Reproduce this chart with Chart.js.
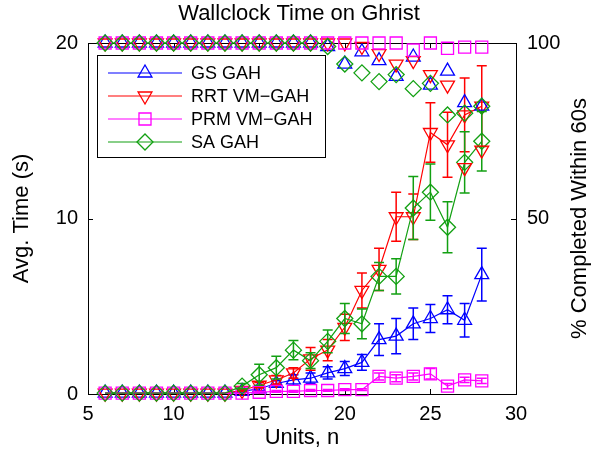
<!DOCTYPE html>
<html>
<head>
<meta charset="utf-8">
<title>Wallclock Time on Ghrist</title>
<script src="https://cdn.jsdelivr.net/npm/chart.js@4.4.0/dist/chart.umd.min.js"></script>
<style>
  html, body { margin: 0; padding: 0; background: #fff; }
  #wrap { width: 598px; height: 455px; }
</style>
</head>
<body>
<div id="wrap"><canvas id="myChartWallclock"></canvas></div>
<script>
// units n (x axis)
const units = [6, 7, 8, 9, 10, 11, 12, 13, 14, 15, 16, 17, 18, 19, 20, 21, 22, 23, 24, 25, 26, 27, 28];

// average time (s), left axis
const gsTime  = [0.05, 0.05, 0.05, 0.05, 0.05, 0.05, 0.05, 0.05, 0.15, 0.3, 0.6, 0.8, 0.9, 1.2, 1.45, 1.8, 3.1, 3.3, 4.0, 4.3, 4.8, 4.2, 6.8];
const gsErr   = [0, 0, 0, 0, 0, 0, 0, 0, 0.05, 0.1, 0.15, 0.3, 0.3, 0.35, 0.4, 0.45, 0.9, 1.0, 0.9, 0.8, 0.8, 0.95, 1.5];
const rrtTime = [0.05, 0.05, 0.05, 0.05, 0.05, 0.05, 0.05, 0.05, 0.2, 0.5, 0.8, 1.2, 2.0, 2.5, 3.8, 5.9, 7.1, 10.1, 10.1, 14.9, 14.2, 15.9, 16.4];
const rrtErr  = [0, 0, 0, 0, 0, 0, 0, 0, 0.05, 0.15, 0.25, 0.3, 0.65, 0.6, 0.75, 1.0, 1.2, 1.4, 1.3, 1.7, 1.85, 2.1, 2.3];
const prmTime = [0.05, 0.05, 0.05, 0.05, 0.05, 0.05, 0.05, 0.05, 0.05, 0.1, 0.15, 0.15, 0.2, 0.2, 0.25, 0.25, 1.0, 0.9, 1.0, 1.15, 0.45, 0.8, 0.75];
const prmErr  = [0, 0, 0, 0, 0, 0, 0, 0, 0, 0.05, 0.05, 0.05, 0.05, 0.05, 0.05, 0.05, 0.2, 0.2, 0.2, 0.3, 0.15, 0.15, 0.15];
const saTime  = [0.05, 0.05, 0.05, 0.05, 0.05, 0.05, 0.05, 0.05, 0.45, 1.1, 1.5, 2.5, 1.9, 3.0, 4.3, 4.0, 6.7, 6.7, 10.6, 11.5, 9.5, 13.2, 14.4];
const saErr   = [0, 0, 0, 0, 0, 0, 0, 0, 0.15, 0.6, 0.65, 0.55, 0.45, 0.65, 0.85, 0.85, 0.8, 1.0, 1.8, 1.6, 1.45, 1.75, 1.7];

// % completed within 60s, right axis
const gsPct  = [100, 100, 100, 100, 100, 100, 100, 100, 100, 100, 100, 100, 100, 99, 94, 97.5, 95, 90.5, 96, 88, 92, 83, 82];
const rrtPct = [100, 100, 100, 100, 100, 100, 100, 100, 100, 100, 100, 100, 100, 100, 100, 99, 97, 94, 95, 91, 88, 64.5, 69.5];
const prmPct = [100, 100, 100, 100, 100, 100, 100, 100, 100, 100, 100, 100, 100, 100, 100, 100, 100, 100, 98, 100, 98.5, 98.8, 98.8];
const saPct  = [100, 100, 100, 100, 100, 100, 100, 100, 100, 100, 100, 100, 100, 99, 94, 91.5, 89, 91, 87, 88.5, 79.5, 80, 82];

// tick labels
const xTicks = [5, 10, 15, 20, 25, 30];
const yTicks = [0, 10, 20];
const y1Ticks = [50, 100];

const FONT = '"Liberation Sans", Arial, Helvetica, sans-serif';
Chart.defaults.font.family = FONT;
Chart.defaults.color = '#000';

// series styles
const styles = [
  { label: 'GS GAH',      color: '#0000ff', pointStyle: 'triangle', rotation: 0,   order: 3 },
  { label: 'RRT VM−GAH',  color: '#ff0000', pointStyle: 'triangle', rotation: 180, order: 2 },
  { label: 'PRM VM−GAH',  color: '#ff00ff', pointStyle: 'rect',     rotation: 0,   order: 1 },
  { label: 'SA GAH',      color: '#12a012', pointStyle: 'rectRot',  rotation: 0,   order: 0 },
];
const timeSets = [gsTime, rrtTime, prmTime, saTime];
const errSets  = [gsErr, rrtErr, prmErr, saErr];
const pctSets  = [gsPct, rrtPct, prmPct, saPct];

function toPoints(vals) {
  return units.map((u, i) => ({ x: u, y: vals[i] }));
}

let datasets = [];
styles.forEach((s, k) => {
  datasets.push({
    label: s.label,
    data: toPoints(timeSets[k]),
    errors: errSets[k],
    yAxisID: 'y',
    showLine: true,
    borderColor: s.color,
    borderWidth: 1.2,
    backgroundColor: 'rgba(0,0,0,0)',
    pointStyle: s.pointStyle,
    pointRotation: s.rotation,
    pointRadius: s.pointStyle === 'rect' ? 8.5 : 8,
    pointBorderWidth: 1.3,
    pointBorderColor: s.color,
    pointBackgroundColor: 'rgba(0,0,0,0)',
    order: s.order + 4,
    clip: false,
  });
});
styles.forEach((s, k) => {
  datasets.push({
    label: s.label + ' %',
    data: toPoints(pctSets[k]),
    yAxisID: 'y1',
    showLine: false,
    borderColor: s.color,
    backgroundColor: 'rgba(0,0,0,0)',
    pointStyle: s.pointStyle,
    pointRotation: s.rotation,
    pointRadius: s.pointStyle === 'rect' ? 8.5 : 8,
    pointBorderWidth: 1.3,
    pointBorderColor: s.color,
    pointBackgroundColor: 'rgba(0,0,0,0)',
    order: s.order,
    clip: false,
  });
});

// error bars drawn right after each dataset
const errorBars = {
  id: 'errorBars',
  afterDatasetDraw(chart, args) {
    const ds = chart.data.datasets[args.index];
    if (!ds.errors) return;
    const ctx = chart.ctx;
    const yScale = chart.scales[ds.yAxisID];
    ctx.save();
    ctx.strokeStyle = ds.borderColor;
    ctx.lineWidth = 1.5;
    args.meta.data.forEach((el, i) => {
      const e = ds.errors[i];
      if (!e) return;
      const v = ds.data[i].y;
      const top = yScale.getPixelForValue(v + e);
      const bot = yScale.getPixelForValue(v - e);
      ctx.beginPath();
      ctx.moveTo(el.x, top); ctx.lineTo(el.x, bot);
      ctx.moveTo(el.x - 5, top); ctx.lineTo(el.x + 5, top);
      ctx.moveTo(el.x - 5, bot); ctx.lineTo(el.x + 5, bot);
      ctx.stroke();
    });
    ctx.restore();
  }
};

// axes box with inward ticks
const axesBox = {
  id: 'axesBox',
  beforeDatasetsDraw(chart) {
    const { ctx, chartArea: a, scales } = chart;
    ctx.save();
    ctx.strokeStyle = '#000';
    ctx.lineWidth = 1;
    ctx.strokeRect(a.left + 0.5, a.top + 0.5, a.right - a.left, a.bottom - a.top);
    ctx.beginPath();
    xTicks.forEach(t => {
      const x = Math.round(scales.x.getPixelForValue(t)) + 0.5;
      ctx.moveTo(x, a.bottom); ctx.lineTo(x, a.bottom - 5);
      ctx.moveTo(x, a.top); ctx.lineTo(x, a.top + 5);
    });
    yTicks.forEach(t => {
      const y = Math.round(scales.y.getPixelForValue(t)) + 0.5;
      ctx.moveTo(a.left, y); ctx.lineTo(a.left + 5, y);
    });
    y1Ticks.forEach(t => {
      const y = Math.round(scales.y1.getPixelForValue(t)) + 0.5;
      ctx.moveTo(a.right, y); ctx.lineTo(a.right - 5, y);
    });
    ctx.stroke();
    ctx.restore();
  }
};

// legend box and right axis title
const boxLegend = {
  id: 'boxLegend',
  afterDraw(chart) {
    const ctx = chart.ctx;
    const a = chart.chartArea;
    ctx.save();
    // right axis title, reads bottom to top
    ctx.translate(580, (a.top + a.bottom) / 2);
    ctx.rotate(-Math.PI / 2);
    ctx.font = '22px ' + FONT;
    ctx.fillStyle = '#000';
    ctx.textAlign = 'center';
    ctx.textBaseline = 'middle';
    ctx.fillText('% Completed Within 60s', 0, 0);
    ctx.restore();

    ctx.save();
    const bx = 97.5, by = 55.5, bw = 228, bh = 102;
    ctx.fillStyle = '#fff';
    ctx.fillRect(bx, by, bw, bh);
    ctx.strokeStyle = '#000';
    ctx.lineWidth = 1;
    ctx.strokeRect(bx, by, bw, bh);
    ctx.font = '18px ' + FONT;
    ctx.textAlign = 'left';
    ctx.textBaseline = 'middle';
    styles.forEach((s, k) => {
      const y = 73 + k * 23;
      ctx.strokeStyle = s.color;
      ctx.lineWidth = 1.2;
      ctx.beginPath();
      ctx.moveTo(108, y); ctx.lineTo(182, y);
      ctx.stroke();
      ctx.fillStyle = 'rgba(0,0,0,0)';
      ctx.lineWidth = 1.3;
      Chart.helpers.drawPoint(ctx, {
        pointStyle: s.pointStyle,
        rotation: s.rotation,
        radius: s.pointStyle === 'rect' ? 8.5 : 8,
        borderWidth: 1.3,
      }, 145, y);
      ctx.fillStyle = '#000';
      ctx.fillText(s.label, 191, y + 1);
    });
    ctx.restore();
  }
};

// config block
let config = {
  type: 'scatter',
  data: { datasets: datasets },
  options: {
    responsive: true,
    maintainAspectRatio: false,
    animation: false,
    layout: { padding: 0 },
    plugins: {
      legend: { display: false },
      tooltip: { enabled: false },
      title: {
        display: true,
        text: 'Wallclock Time on Ghrist',
        font: { size: 22, weight: 'normal' },
        color: '#000',
        padding: { top: 0.8, bottom: 15.8 },
      },
    },
    scales: {
      x: {
        type: 'linear',
        min: 5, max: 30,
        afterFit: (scale) => { scale.height = 61; },
        afterBuildTicks: (scale) => { scale.ticks = xTicks.map(v => ({ value: v })); },
        grid: { display: false },
        border: { display: false },
        ticks: { font: { size: 20 }, padding: 0, maxRotation: 0 },
        title: { display: true, text: 'Units, n', font: { size: 22 }, padding: { top: 0, bottom: 3.8 } },
      },
      y: {
        type: 'linear',
        position: 'left',
        min: 0, max: 20,
        afterFit: (scale) => { scale.width = 88; },
        afterBuildTicks: (scale) => { scale.ticks = yTicks.map(v => ({ value: v })); },
        grid: { display: false },
        border: { display: false },
        ticks: { font: { size: 20 }, padding: 2 },
        title: { display: true, text: 'Avg. Time (s)', font: { size: 22 }, padding: { top: 8.8, bottom: 0 } },
      },
      y1: {
        type: 'linear',
        position: 'right',
        min: 0, max: 100,
        afterFit: (scale) => { scale.width = 82; },
        afterBuildTicks: (scale) => { scale.ticks = y1Ticks.map(v => ({ value: v })); },
        grid: { display: false },
        border: { display: false },
        ticks: { font: { size: 20 }, padding: 3 },
      },
    },
  },
  plugins: [axesBox, errorBars, boxLegend],
};

// render block
let myChart = new Chart(document.getElementById('myChartWallclock'), config);
</script>
</body>
</html>
